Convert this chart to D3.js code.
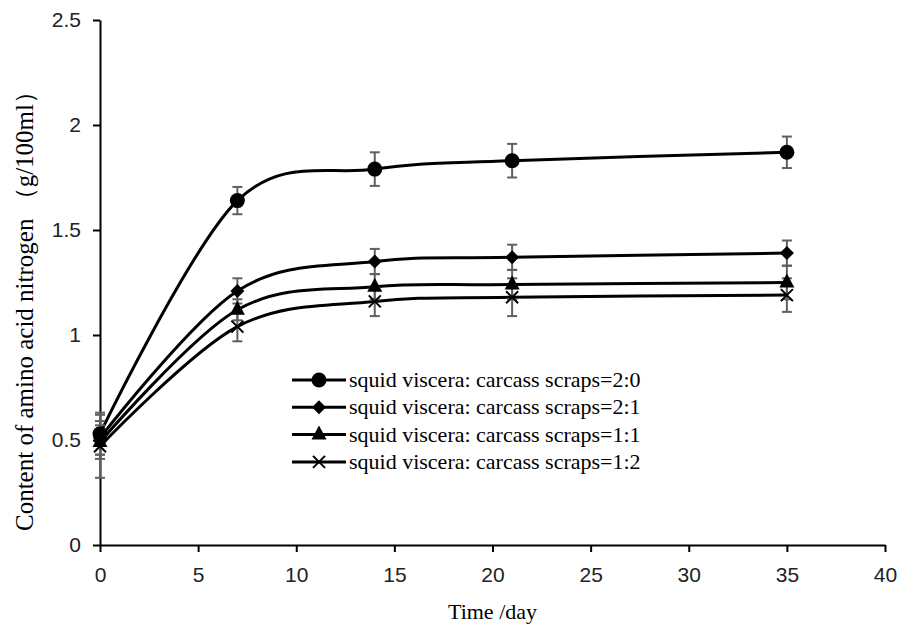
<!DOCTYPE html>
<html>
<head>
<meta charset="utf-8">
<script src="https://cdn.jsdelivr.net/npm/d3@7"></script>
<style>
  body { margin: 0; background: #fff; }
  .tick text { font-family: "Liberation Sans", Arial, sans-serif; font-size: 21px; fill: #222; }
</style>
</head>
<body>
<script>
const days = [0, 7, 14, 21, 35];

const seriesNames = [
  'squid viscera: carcass scraps=2:0',
  'squid viscera: carcass scraps=2:1',
  'squid viscera: carcass scraps=1:1',
  'squid viscera: carcass scraps=1:2',
];
const s20 = [0.53, 1.64, 1.79, 1.83, 1.87];
const s21 = [0.51, 1.21, 1.35, 1.37, 1.39];
const s11 = [0.49, 1.12, 1.23, 1.24, 1.25];
const s12 = [0.47, 1.04, 1.16, 1.18, 1.19];
const e20 = [0.10, 0.065, 0.08, 0.08, 0.075];
const e21 = [0.08, 0.06, 0.06, 0.06, 0.06];
const e11 = [0.08, 0.05, 0.06, 0.07, 0.08];
const e12 = [0.15, 0.07, 0.07, 0.09, 0.08];
const markers = ['circle', 'diamond', 'triangle', 'cross'];

const xTicks = [0, 5, 10, 15, 20, 25, 30, 35, 40];
const yTicks = [0, 0.5, 1, 1.5, 2, 2.5];

const width = 907, height = 626;
const margin = { top: 20, right: 22, bottom: 81, left: 100 };

const series = [s20, s21, s11, s12].map((vals, i) => ({
  name: seriesNames[i],
  marker: markers[i],
  points: vals.map((v, j) => ({ x: days[j], y: v, err: [e20, e21, e11, e12][i][j] })),
}));

const x = d3.scaleLinear().domain([0, 40]).range([margin.left, width - margin.right]);
const y = d3.scaleLinear().domain([0, 2.5]).range([height - margin.bottom, margin.top]);

const svg = d3.select('body').append('svg')
      .attr('width', width)
      .attr('height', height);

// axes
const xAxis = svg.append('g')
      .attr('transform', 'translate(0,' + y(0) + ')')
      .call(d3.axisBottom(x).tickValues(xTicks).tickSize(7).tickSizeOuter(0).tickPadding(15));
const yAxis = svg.append('g')
      .attr('transform', 'translate(' + x(0) + ',0)')
      .call(d3.axisLeft(y).tickValues(yTicks).tickSize(7).tickSizeOuter(0).tickPadding(12)
        .tickFormat(d3.format('')));
[xAxis, yAxis].forEach(a => {
  a.select('.domain').attr('stroke', '#000').attr('stroke-width', 2);
  a.selectAll('.tick line').attr('stroke', '#000').attr('stroke-width', 2);
});

// axis titles
svg.append('text')
  .attr('x', (x(0) + x(40)) / 2)
  .attr('y', 619)
  .attr('text-anchor', 'middle')
  .style('font-family', '"Liberation Serif", "Times New Roman", serif')
  .style('font-size', '22px')
  .text('Time /day');

svg.append('text')
  .attr('transform', 'translate(33,' + 305 + ') rotate(-90)')
  .attr('text-anchor', 'middle')
  .style('font-family', '"Liberation Serif", "Times New Roman", serif')
  .style('font-size', '25px')
  .text('Content of amino acid nitrogen （g/100ml）');

const line = d3.line()
      .x(d => x(d.x))
      .y(d => y(d.y))
      .curve(d3.curveCardinal.tension(0));

function drawMarker(g, type, cx, cy) {
  if (type === 'circle') {
    g.append('circle').attr('cx', cx).attr('cy', cy).attr('r', 7.5).attr('fill', '#000');
  } else if (type === 'diamond') {
    const r = 7;
    g.append('path').attr('d', `M${cx},${cy - r}L${cx + r},${cy}L${cx},${cy + r}L${cx - r},${cy}Z`).attr('fill', '#000');
  } else if (type === 'triangle') {
    g.append('path').attr('d', `M${cx},${cy - 9}L${cx + 7.5},${cy + 5}L${cx - 7.5},${cy + 5}Z`).attr('fill', '#000');
  } else {
    const r = 6;
    g.append('path').attr('d', `M${cx - r},${cy - r}L${cx + r},${cy + r}M${cx - r},${cy + r}L${cx + r},${cy - r}`)
      .attr('stroke', '#000').attr('stroke-width', 2);
  }
}

// lines
series.forEach(s => {
  svg.append('path')
    .datum(s.points)
    .attr('d', line)
    .attr('fill', 'none')
    .attr('stroke', '#000')
    .attr('stroke-width', 3);
});

// error bars
series.forEach(s => {
  const g = svg.append('g').attr('stroke', '#5f5f5f').attr('stroke-width', 2);
  s.points.forEach(p => {
    const cx = x(p.x), t = y(p.y + p.err), b = y(p.y - p.err);
    g.append('line').attr('x1', cx).attr('x2', cx).attr('y1', t).attr('y2', b);
    g.append('line').attr('x1', cx - 5).attr('x2', cx + 5).attr('y1', t).attr('y2', t);
    g.append('line').attr('x1', cx - 5).attr('x2', cx + 5).attr('y1', b).attr('y2', b);
  });
});

// markers
series.forEach(s => {
  const g = svg.append('g');
  s.points.forEach(p => drawMarker(g, s.marker, x(p.x), y(p.y)));
});

// legend
const legend = svg.append('g').attr('transform', 'translate(292,380)');
series.forEach((s, i) => {
  const row = legend.append('g').attr('transform', 'translate(0,' + i * 27.3 + ')');
  row.append('line').attr('x1', 0).attr('x2', 54).attr('y1', 0).attr('y2', 0)
    .attr('stroke', '#000').attr('stroke-width', 3);
  drawMarker(row, s.marker, 27, 0);
  row.append('text')
    .attr('x', 57)
    .attr('y', 7)
    .style('font-family', '"Liberation Serif", "Times New Roman", serif')
    .style('font-size', '22px')
    .text(s.name);
});
</script>
</body>
</html>
